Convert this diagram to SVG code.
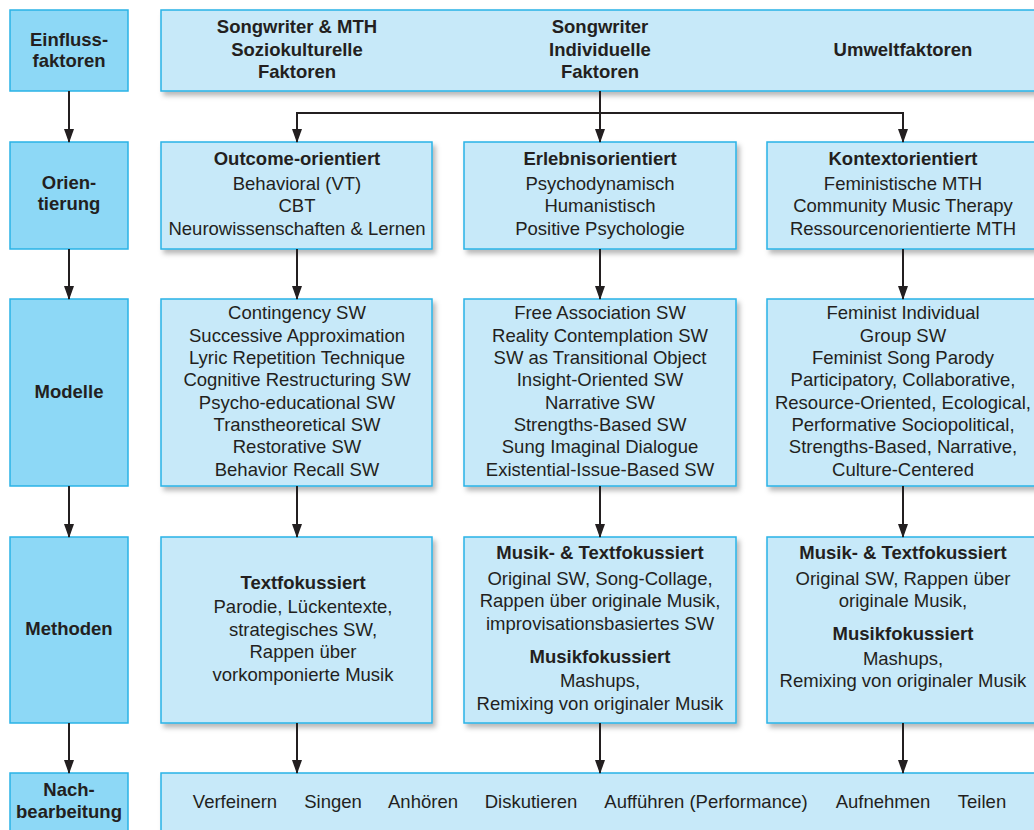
<svg xmlns="http://www.w3.org/2000/svg" width="1034" height="830" viewBox="0 0 1034 830">
<defs>
<filter id="sh" x="-5%" y="-5%" width="115%" height="120%">
<feDropShadow dx="3" dy="4" stdDeviation="2.5" flood-color="#000" flood-opacity="0.28"/>
</filter>
<marker id="ah" markerWidth="14" markerHeight="10" refX="13" refY="5" orient="auto-start-reverse" markerUnits="userSpaceOnUse" viewBox="0 0 14 10">
<path d="M0,0 L14,5 L0,10 Z" fill="#231f20"/>
</marker>
</defs>
<style>
.lab{fill:#8dd8f6;stroke:#2ab3e6;stroke-width:1.5}
.box{fill:#c7e9f9;stroke:#2ab3e6;stroke-width:1.5;filter:url(#sh)}
text{font-family:"Liberation Sans",Arial,sans-serif;fill:#231f20;text-anchor:middle}
.b{font-weight:bold;font-size:18.5px}
.t{font-size:18.5px}
.c line,.c path{stroke:#231f20;stroke-width:2;fill:none}
</style>
<rect width="1034" height="830" fill="#fff"/>

<g id="lab-einfluss"><rect class="lab" x="10" y="10" width="118" height="81"/>
<text class="b" x="69" y="46">Einfluss-</text><text class="b" x="69" y="67">faktoren</text></g>
<g id="lab-orientierung"><rect class="lab" x="10" y="142" width="118" height="107"/>
<text class="b" x="69" y="189">Orien-</text><text class="b" x="69" y="210">tierung</text></g>
<g id="lab-modelle"><rect class="lab" x="10" y="299" width="118" height="187"/>
<text class="b" x="69" y="398">Modelle</text></g>
<g id="lab-methoden"><rect class="lab" x="10" y="537" width="118" height="186"/>
<text class="b" x="69" y="635">Methoden</text></g>
<g id="lab-nach"><rect class="lab" x="10" y="773" width="118" height="70"/>
<text class="b" x="69" y="796">Nach-</text><text class="b" x="69" y="818">bearbeitung</text></g>

<g id="einfluss"><rect class="box" x="161" y="10" width="880" height="81"/>
<text class="b" x="297" y="33">Songwriter &amp; MTH</text><text class="b" x="297" y="56">Soziokulturelle</text><text class="b" x="297" y="78">Faktoren</text>
<text class="b" x="600" y="33">Songwriter</text><text class="b" x="600" y="56">Individuelle</text><text class="b" x="600" y="78">Faktoren</text>
<text class="b" x="903" y="56">Umweltfaktoren</text></g>

<g id="orient-1"><rect class="box" x="161" y="142" width="271" height="107"/>
<text class="b" x="297" y="165">Outcome-orientiert</text>
<text class="t" x="297" y="190">Behavioral (VT)</text><text class="t" x="297" y="212">CBT</text><text class="t" x="297" y="235">Neurowissenschaften &amp; Lernen</text></g>
<g id="orient-2"><rect class="box" x="464" y="142" width="272" height="107"/>
<text class="b" x="600" y="165">Erlebnisorientiert</text>
<text class="t" x="600" y="190">Psychodynamisch</text><text class="t" x="600" y="212">Humanistisch</text><text class="t" x="600" y="235">Positive Psychologie</text></g>
<g id="orient-3"><rect class="box" x="767" y="142" width="274" height="107"/>
<text class="b" x="903" y="165">Kontextorientiert</text>
<text class="t" x="903" y="190">Feministische MTH</text><text class="t" x="903" y="212">Community Music Therapy</text><text class="t" x="903" y="235">Ressourcenorientierte MTH</text></g>

<g id="modell-1"><rect class="box" x="161" y="299" width="271" height="187"/>
<text class="t" x="297" y="319">Contingency SW</text><text class="t" x="297" y="342">Successive Approximation</text><text class="t" x="297" y="364">Lyric Repetition Technique</text><text class="t" x="297" y="386">Cognitive Restructuring SW</text><text class="t" x="297" y="409">Psycho-educational SW</text><text class="t" x="297" y="431">Transtheoretical SW</text><text class="t" x="297" y="453">Restorative SW</text><text class="t" x="297" y="476">Behavior Recall SW</text></g>
<g id="modell-2"><rect class="box" x="464" y="299" width="272" height="187"/>
<text class="t" x="600" y="319">Free Association SW</text><text class="t" x="600" y="342">Reality Contemplation SW</text><text class="t" x="600" y="364">SW as Transitional Object</text><text class="t" x="600" y="386">Insight-Oriented SW</text><text class="t" x="600" y="409">Narrative SW</text><text class="t" x="600" y="431">Strengths-Based SW</text><text class="t" x="600" y="453">Sung Imaginal Dialogue</text><text class="t" x="600" y="476">Existential-Issue-Based SW</text></g>
<g id="modell-3"><rect class="box" x="767" y="299" width="274" height="187"/>
<text class="t" x="903" y="319">Feminist Individual</text><text class="t" x="903" y="342">Group SW</text><text class="t" x="903" y="364">Feminist Song Parody</text><text class="t" x="903" y="386">Participatory, Collaborative,</text><text class="t" x="903" y="409">Resource-Oriented, Ecological,</text><text class="t" x="903" y="431">Performative Sociopolitical,</text><text class="t" x="903" y="453">Strengths-Based, Narrative,</text><text class="t" x="903" y="476">Culture-Centered</text></g>

<g id="methode-1"><rect class="box" x="161" y="537" width="271" height="186"/>
<text class="b" x="303" y="589">Textfokussiert</text>
<text class="t" x="303" y="613">Parodie, Lückentexte,</text><text class="t" x="303" y="636">strategisches SW,</text><text class="t" x="303" y="658">Rappen über</text><text class="t" x="303" y="681">vorkomponierte Musik</text></g>
<g id="methode-2"><rect class="box" x="464" y="537" width="272" height="186"/>
<text class="b" x="600" y="559">Musik- &amp; Textfokussiert</text>
<text class="t" x="600" y="585">Original SW, Song-Collage,</text><text class="t" x="600" y="607">Rappen über originale Musik,</text><text class="t" x="600" y="630">improvisationsbasiertes SW</text>
<text class="b" x="600" y="663">Musikfokussiert</text>
<text class="t" x="600" y="687">Mashups,</text><text class="t" x="600" y="710">Remixing von originaler Musik</text></g>
<g id="methode-3"><rect class="box" x="767" y="537" width="274" height="186"/>
<text class="b" x="903" y="559">Musik- &amp; Textfokussiert</text>
<text class="t" x="903" y="585">Original SW, Rappen über</text><text class="t" x="903" y="607">originale Musik,</text>
<text class="b" x="903" y="640">Musikfokussiert</text>
<text class="t" x="903" y="665">Mashups,</text><text class="t" x="903" y="687">Remixing von originaler Musik</text></g>

<g id="nachbearbeitung"><rect class="box" x="161" y="773" width="880" height="70"/>
<text class="t" x="235" y="808">Verfeinern</text><text class="t" x="333" y="808">Singen</text><text class="t" x="423" y="808">Anhören</text><text class="t" x="531" y="808">Diskutieren</text><text class="t" x="706" y="808">Aufführen (Performance)</text><text class="t" x="883" y="808">Aufnehmen</text><text class="t" x="982" y="808">Teilen</text></g>

<g id="connectors" class="c">
<line x1="69" y1="91" x2="69" y2="142" marker-end="url(#ah)"/>
<line x1="69" y1="249" x2="69" y2="299" marker-end="url(#ah)"/>
<line x1="69" y1="486" x2="69" y2="537" marker-end="url(#ah)"/>
<line x1="69" y1="723" x2="69" y2="773" marker-end="url(#ah)"/>
<line x1="600" y1="91" x2="600" y2="142" marker-end="url(#ah)"/>
<path d="M297,142 V113 H903 V142" marker-start="url(#ah)" marker-end="url(#ah)"/>
<line x1="297" y1="249" x2="297" y2="299" marker-end="url(#ah)"/>
<line x1="600" y1="249" x2="600" y2="299" marker-end="url(#ah)"/>
<line x1="903" y1="249" x2="903" y2="299" marker-end="url(#ah)"/>
<line x1="297" y1="486" x2="297" y2="537" marker-end="url(#ah)"/>
<line x1="600" y1="486" x2="600" y2="537" marker-end="url(#ah)"/>
<line x1="903" y1="486" x2="903" y2="537" marker-end="url(#ah)"/>
<line x1="297" y1="723" x2="297" y2="773" marker-end="url(#ah)"/>
<line x1="600" y1="723" x2="600" y2="773" marker-end="url(#ah)"/>
<line x1="903" y1="723" x2="903" y2="773" marker-end="url(#ah)"/>
</g>
</svg>
